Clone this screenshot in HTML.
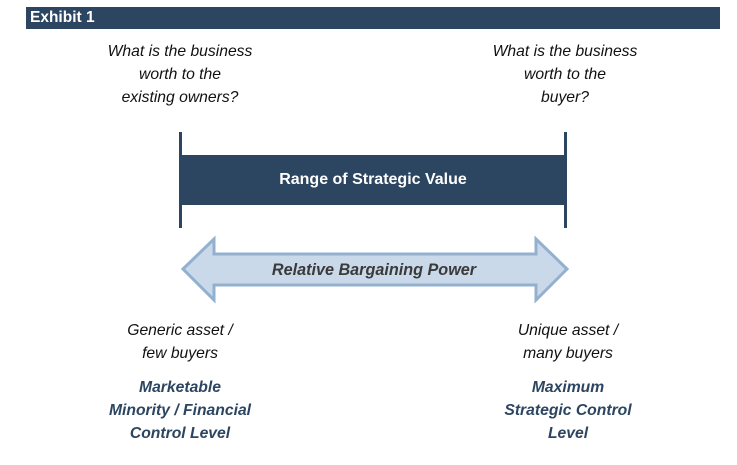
<!DOCTYPE html>
<html><head><style>
body{margin:0;width:737px;height:465px;background:#fff;position:relative;font-family:"Liberation Sans",Arial,sans-serif;overflow:hidden}
.a{position:absolute}
.t{position:absolute;width:260px;text-align:center;font-style:italic;font-size:15.7px;line-height:23px;color:#111}
.b{position:absolute;width:260px;text-align:center;font-style:italic;font-weight:bold;font-size:15.7px;line-height:23px;color:#2c4560}
</style></head><body>
<div class="a" style="left:26px;top:7px;width:694px;height:22px;background:#2c4560;color:#fff;font-weight:bold;font-size:15.5px;line-height:22px;padding-left:4px;box-sizing:border-box">Exhibit 1</div>
<div class="t" style="left:50px;top:40px">What is the business<br>worth to the<br>existing owners?</div>
<div class="t" style="left:435px;top:40px">What is the business<br>worth to the<br>buyer?</div>
<div class="a" style="left:179px;top:132px;width:3px;height:96px;background:#2c4560"></div>
<div class="a" style="left:564px;top:132px;width:3px;height:96px;background:#2c4560"></div>
<div class="a" style="left:180px;top:155px;width:386px;height:50px;background:#2c4560;color:#fff;font-weight:bold;font-size:16px;line-height:50px;text-align:center">Range of Strategic Value</div>
<svg class="a" style="left:0;top:0" width="737" height="465">
<polygon points="183,269 214,239 214,254 536,254 536,239 567,269 536,300 536,285 214,285 214,300" fill="#c9d9ea" stroke="#93b1cf" stroke-width="3" stroke-linejoin="miter"/>
<text x="374" y="275" text-anchor="middle" font-family="Liberation Sans,Arial,sans-serif" font-size="16.2" font-weight="bold" font-style="italic" fill="#3a3a3a">Relative Bargaining Power</text>
</svg>
<div class="t" style="left:50px;top:319px">Generic asset /<br>few buyers</div>
<div class="t" style="left:438px;top:319px">Unique asset /<br>many buyers</div>
<div class="b" style="left:50px;top:376px">Marketable<br>Minority / Financial<br>Control Level</div>
<div class="b" style="left:438px;top:376px">Maximum<br>Strategic Control<br>Level</div>
</body></html>
